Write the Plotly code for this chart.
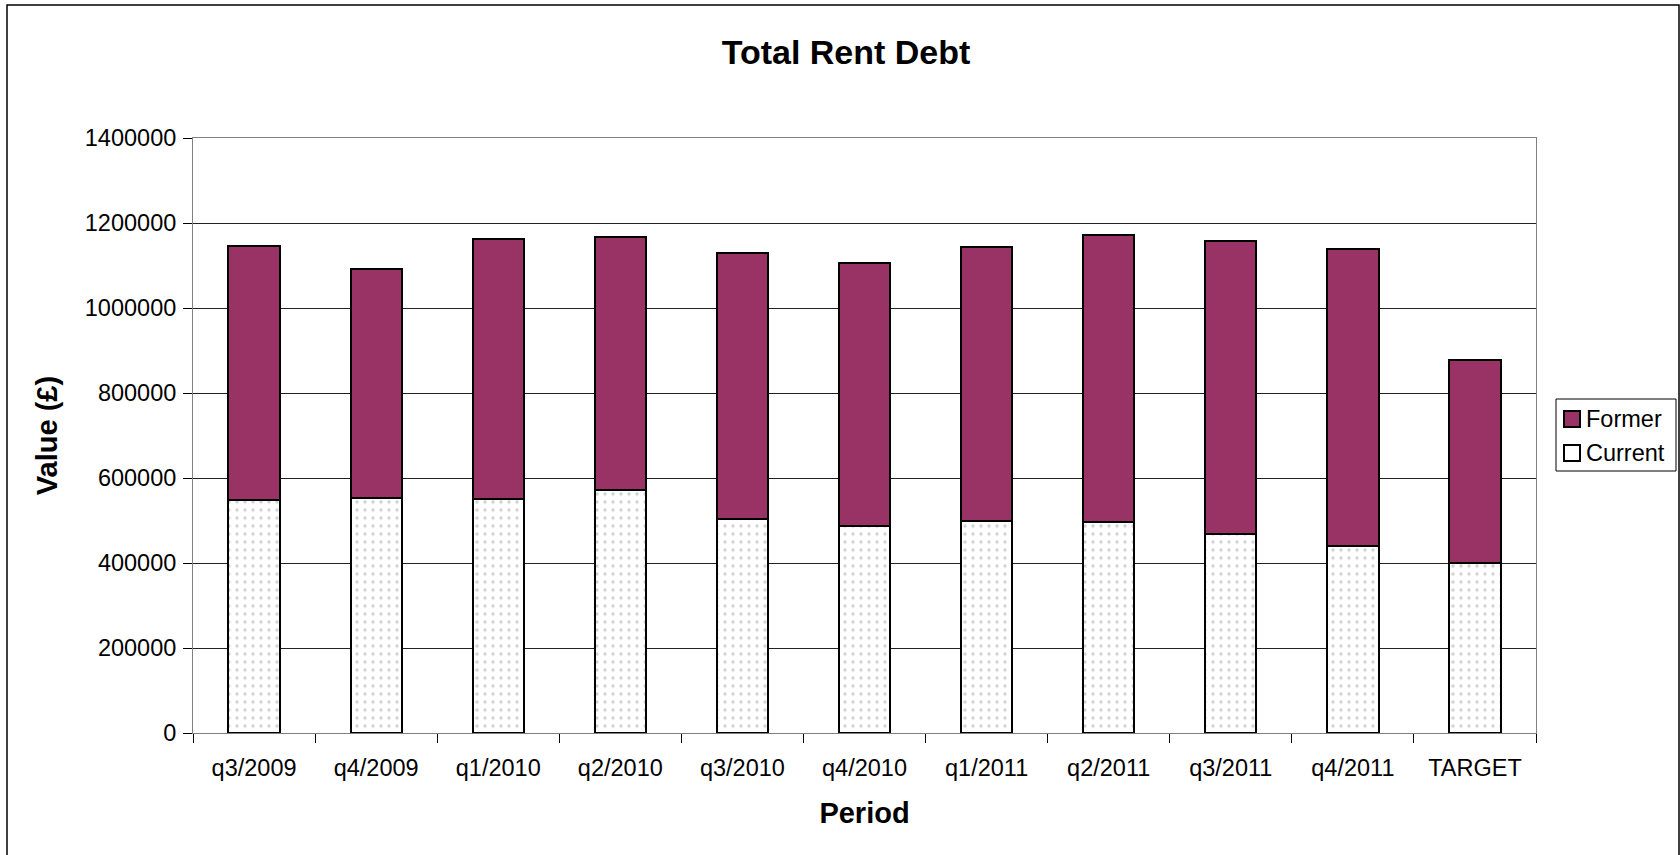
import plotly.graph_objects as go

periods = ["q3/2009", "q4/2009", "q1/2010", "q2/2010", "q3/2010", "q4/2010",
           "q1/2011", "q2/2011", "q3/2011", "q4/2011", "TARGET"]
current = [548000, 553000, 550000, 572000, 503000, 488000, 500000, 496000, 468000, 441000, 400000]
former = [598000, 538000, 613000, 594000, 627000, 618000, 644000, 676000, 690000, 698000, 478000]

PLUM = "#993366"
W, H = 1680, 855
L, R, T, B = 193, 144, 138, 122
pw, ph = W - L - R, H - T - B


def px(x):
    return (x - L) / pw


def py(y):
    return (H - B - y) / ph


fig = go.Figure()
fig.add_trace(go.Bar(
    x=periods, y=current, name="Current", showlegend=False,
    marker=dict(color="white", line=dict(color="black", width=2),
                pattern=dict(shape=".", fgcolor="#a8a8a8", bgcolor="white", size=8, solidity=0.15)),
))
fig.add_trace(go.Bar(
    x=periods, y=former, name="Former", showlegend=False,
    marker=dict(color=PLUM, line=dict(color="black", width=2)),
))

fig.update_layout(
    width=W, height=H, barmode="stack", bargap=0.58,
    margin=dict(l=L, r=R, t=T, b=B, autoexpand=False),
    paper_bgcolor="white", plot_bgcolor="white",
    font=dict(family="Liberation Sans, Arial", color="black", size=24),
    title=dict(text="<b>Total Rent Debt</b>", x=846 / W, xanchor="center",
               y=1 - 52 / H, yanchor="middle", font=dict(size=34)),
    showlegend=False,
)
fig.update_xaxes(
    showline=True, linecolor="#808080", linewidth=1, mirror=True,
    ticks="outside", tickson="boundaries", ticklen=9, tickcolor="black",
    tickfont=dict(size=23.5), ticklabelstandoff=14,
    title=dict(text="<b>Period</b>", font=dict(size=29), standoff=22),
)
fig.update_yaxes(
    range=[0, 1400000], dtick=200000, tickformat="d",
    showline=True, linecolor="#808080", linewidth=1, mirror=True,
    showgrid=True, gridcolor="#222222", gridwidth=1,
    ticks="outside", ticklen=9, tickcolor="black",
    tickfont=dict(size=23.5), ticklabelstandoff=2, zeroline=False,
    title=dict(text="<b>Value (£)</b>", font=dict(size=29), standoff=18),
)

# outer chart frame
fig.add_shape(type="rect", xref="paper", yref="paper",
              x0=px(7), x1=px(1679), y0=py(H + 10), y1=py(5),
              line=dict(color="black", width=1.5), fillcolor="rgba(0,0,0,0)", layer="below")

# legend box
fig.add_shape(type="rect", xref="paper", yref="paper",
              x0=px(1556), x1=px(1676), y0=py(471), y1=py(399),
              line=dict(color="black", width=1), fillcolor="white")
legend_items = [("Former", PLUM, 419), ("Current", "white", 453)]
for name, col, yc in legend_items:
    fig.add_shape(type="rect", xref="paper", yref="paper",
                  x0=px(1564), x1=px(1580), y0=py(yc + 8), y1=py(yc - 8),
                  line=dict(color="black", width=2), fillcolor=col)
    fig.add_annotation(text=name, xref="paper", yref="paper", x=px(1584), y=py(yc),
                       xanchor="left", yanchor="middle", showarrow=False,
                       font=dict(size=23.5, color="black"))

fig.write_html("out.html", config={"displayModeBar": False},
               post_script="document.body.style.margin='0';document.body.style.padding='0';")
